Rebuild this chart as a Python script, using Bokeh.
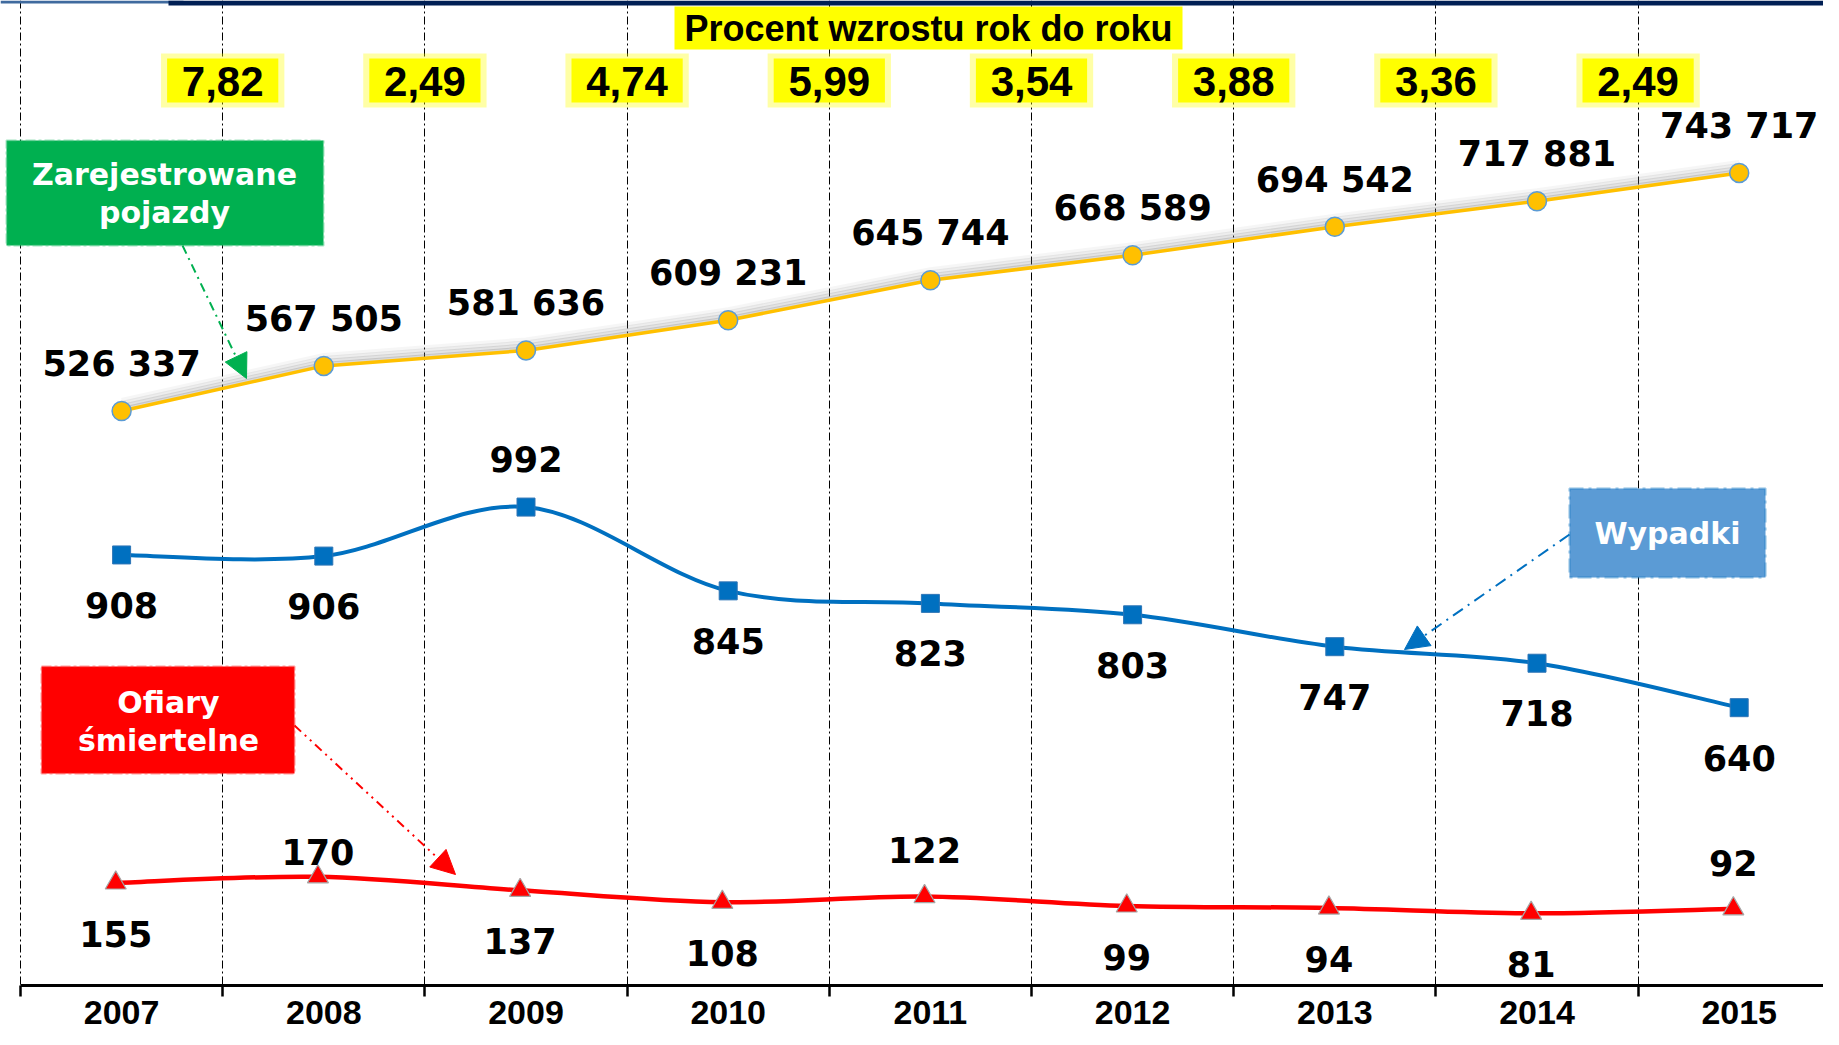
import numpy as np
from bokeh.plotting import figure
from bokeh.models import (Range1d, FixedTicker, BoxAnnotation, Label, Arrow,
                          NormalHead, ColumnDataSource)
from bokeh.core.properties import value
from bokeh.embed import file_html
from bokeh.resources import INLINE

# ---------------- data ----------------
years = ["2007", "2008", "2009", "2010", "2011", "2012", "2013", "2014", "2015"]
vehicles = [526337, 567505, 581636, 609231, 645744, 668589, 694542, 717881, 743717]
accidents = [908, 906, 992, 845, 823, 803, 747, 718, 640]
fatalities = [155, 170, 137, 108, 122, 99, 94, 81, 92]
growth_pct = [7.82, 2.49, 4.74, 5.99, 3.54, 3.88, 3.36, 2.49]

# label placement (layout only)
acc_above = [False, False, True, False, False, False, False, False, False]
fat_above = [False, True, False, False, True, False, False, False, True]

# ---------------- layout ----------------
W, H = 1823, 1029
FRAME_H = 985
SPACING = 202.2
x_start = -0.5 - 20 / SPACING
x_end = x_start + W / SPACING

p = figure(width=W, height=H, output_backend="svg", toolbar_location=None,
           x_range=Range1d(x_start, x_end), y_range=Range1d(FRAME_H, 0),
           y_axis_location=None, min_border_left=0, min_border_right=0,
           min_border_top=0, min_border_bottom=H - FRAME_H)
p.outline_line_color = None
p.background_fill_color = "white"

veh_lo, veh_hi = 1822, 901119
acc_lo, acc_hi = 152.5, 1880.9
fat_lo, fat_hi = -95.1, 2307.3
p.extra_x_ranges = {"px": Range1d(0, W)}
p.extra_y_ranges = {"veh": Range1d(veh_lo, veh_hi),
                    "acc": Range1d(acc_lo, acc_hi),
                    "fat": Range1d(fat_lo, fat_hi)}
veh_scale = FRAME_H / (veh_hi - veh_lo)
shadow = [(2, 0.30), (5, 0.22), (8, 0.14), (11, 0.07)]
for k, (d, _) in enumerate(shadow):
    sh = d / veh_scale
    p.extra_y_ranges[f"vs{k}"] = Range1d(veh_lo - sh, veh_hi - sh)

idx = np.arange(len(years), dtype=float)
bounds = np.arange(len(years) + 1) - 0.5

# top banner strip
p.add_layout(BoxAnnotation(left=0, right=183, top=0, bottom=3, x_range_name="px",
                           fill_color="#3F6A9E", fill_alpha=1, line_color=None))
p.add_layout(BoxAnnotation(left=168, right=W, top=0, bottom=5, x_range_name="px",
                           fill_color="#001F54", fill_alpha=1, line_color=None))

# grid & axis
p.xgrid.ticker = FixedTicker(ticks=list(bounds))
p.xgrid.grid_line_color = "black"
p.xgrid.grid_line_width = 1
p.xgrid.grid_line_dash = "8 3 2 3"
p.xgrid.bounds = (111, FRAME_H)
p.ygrid.visible = False

ax = p.xaxis[0]
ax.ticker = FixedTicker(ticks=list(idx), minor_ticks=list(bounds))
ax.major_label_overrides = {float(i): y for i, y in zip(idx, years)}
ax.major_tick_line_color = None
ax.major_tick_out = 0
ax.major_tick_in = 0
ax.minor_tick_out = 11
ax.minor_tick_in = 0
ax.minor_tick_line_width = 2.5
ax.minor_tick_line_color = "black"
ax.axis_line_width = 3
ax.axis_line_color = "black"
ax.bounds = (-0.5, 9)
ax.major_label_text_font = "Liberation Sans"
ax.major_label_text_font_style = "bold"
ax.major_label_text_font_size = "34px"
ax.major_label_text_color = "black"
ax.major_label_standoff = 4


def smooth(xs, ys):
    xs = np.asarray(xs, float)
    ys = np.asarray(ys, float)
    n = len(xs)
    out = {k: [] for k in ("x0", "y0", "x1", "y1", "cx0", "cy0", "cx1", "cy1")}
    for i in range(n - 1):
        a = max(i - 1, 0)
        b = min(i + 2, n - 1)
        out["x0"].append(xs[i]); out["y0"].append(ys[i])
        out["x1"].append(xs[i + 1]); out["y1"].append(ys[i + 1])
        out["cx0"].append(xs[i] + (xs[i + 1] - xs[a]) / 6)
        out["cy0"].append(ys[i] + (ys[i + 1] - ys[a]) / 6)
        out["cx1"].append(xs[i + 1] - (xs[b] - xs[i]) / 6)
        out["cy1"].append(ys[i + 1] - (ys[b] - ys[i]) / 6)
    return ColumnDataSource(out)


# ---------------- growth percent header ----------------
p.add_layout(BoxAnnotation(left=674, right=1182, top=6, bottom=49,
                           x_range_name="px", fill_color="#FFFF00",
                           fill_alpha=1, line_color=None, level="underlay"))
p.add_layout(Label(x=928, y=28, x_range_name="px",
                   text="Procent wzrostu rok do roku",
                   text_font="Liberation Sans", text_font_style="bold",
                   text_font_size="36px", text_align="center",
                   text_baseline="middle", text_color="black"))

gsrc = ColumnDataSource(dict(x=idx[:-1] + 0.5,
                             t=[f"{g:.2f}".replace(".", ",") for g in growth_pct]))
p.rect(x="x", y=80, width=0.61, height=54, source=gsrc,
       fill_color="#FFFF00", fill_alpha=0.35, line_color=None)
p.rect(x="x", y=80, width=0.55, height=44, source=gsrc,
       fill_color="#FFFF00", line_color=None)
p.text(x="x", y=81, text="t", source=gsrc, text_font=value("Liberation Sans"),
       text_font_style="bold", text_font_size="42px", text_align="center",
       text_baseline="middle", text_color="black")

# ---------------- vehicles ----------------
vsrc = ColumnDataSource(dict(x=idx, y=vehicles,
                             t=[f"{v:,}".replace(",", " ") for v in vehicles]))
for k, (_, a) in enumerate(shadow):
    p.line(x="x", y="y", source=vsrc, y_range_name=f"vs{k}",
           line_color="#808080", line_alpha=a, line_width=4)
p.line(x="x", y="y", source=vsrc, y_range_name="veh",
       line_color="#FFC000", line_width=3.5)
p.scatter(x="x", y="y", source=vsrc, y_range_name="veh", marker="circle",
          size=19, fill_color="#FFC000", line_color="#5B9BD5", line_width=1.5)
p.text(x="x", y="y", text="t", source=vsrc, y_range_name="veh",
       y_offset=-47, text_font=value("DejaVu Sans"), text_font_style="bold",
       text_font_size="35px", text_align="center", text_baseline="middle",
       text_color="black")

# ---------------- accidents ----------------
p.bezier(source=smooth(idx, accidents), y_range_name="acc",
         line_color="#0070C0", line_width=4)
asrc = ColumnDataSource(dict(x=idx, y=accidents, t=[str(a) for a in accidents],
                             off=[-48 if up else 50 for up in acc_above]))
p.scatter(x="x", y="y", source=asrc, y_range_name="acc", marker="square",
          size=18, fill_color="#0070C0", line_color="#2E75B6", line_width=1)
p.text(x="x", y="y", text="t", source=asrc, y_range_name="acc",
       y_offset="off", text_font=value("DejaVu Sans"), text_font_style="bold",
       text_font_size="35px", text_align="center", text_baseline="middle",
       text_color="black")

# ---------------- fatalities ----------------
fx = idx - 0.029
p.bezier(source=smooth(fx, fatalities), y_range_name="fat",
         line_color="#FF0000", line_width=4.5)
fat_off = []
for i, up in enumerate(fat_above):
    if up:
        fat_off.append(-25 if i == 1 else -46)
    else:
        fat_off.append(51)
fsrc = ColumnDataSource(dict(x=fx, y=fatalities, t=[str(f) for f in fatalities],
                             off=fat_off))
p.scatter(x="x", y="y", source=fsrc, y_range_name="fat", marker="triangle",
          size=21, fill_color="#FF0000", line_color="#A6A6A6", line_width=1.2)
p.text(x="x", y="y", text="t", source=fsrc, y_range_name="fat",
       y_offset="off", text_font=value("DejaVu Sans"), text_font_style="bold",
       text_font_size="35px", text_align="center", text_baseline="middle",
       text_color="black")

# ---------------- callouts ----------------
def callout(l, r, t, b, fill, border, dash, lines, cx, ys):
    p.add_layout(BoxAnnotation(left=l, right=r, top=t, bottom=b, x_range_name="px",
                               fill_color=fill, fill_alpha=1, line_color=border,
                               line_width=2.5, line_dash=dash))
    for txt, yy in zip(lines, ys):
        p.add_layout(Label(x=cx, y=yy, x_range_name="px", text=txt,
                           text_font="DejaVu Sans", text_font_style="bold",
                           text_font_size="30px", text_align="center",
                           text_baseline="middle", text_color="white"))


callout(6, 323, 140, 245, "#00B050", "#3CC47A", "10 3 3 3",
        ["Zarejestrowane", "pojazdy"], 164, [174, 212])
callout(1569, 1765, 488, 577, "#5B9BD5", "#0070C0", "14 5 3 5",
        ["Wypadki"], 1667, [533])
callout(41, 294, 666, 773, "#FF0000", "#FF3030", "10 3 3 3",
        ["Ofiary", "śmiertelne"], 168, [702, 740])

p.add_layout(Arrow(x_start=182, y_start=245, x_end=246, y_end=378,
                   x_range_name="px", line_color="#00B050", line_width=2,
                   line_dash="9 5 2 5",
                   end=NormalHead(size=24, fill_color="#00B050",
                                  line_color="#00B050")))
p.add_layout(Arrow(x_start=1569, y_start=534, x_end=1404, y_end=649,
                   x_range_name="px", line_color="#0070C0", line_width=2,
                   line_dash="12 6 2 6",
                   end=NormalHead(size=24, fill_color="#0070C0",
                                  line_color="#0070C0")))
p.add_layout(Arrow(x_start=294, y_start=725, x_end=455, y_end=874,
                   x_range_name="px", line_color="#FF0000", line_width=2,
                   line_dash="9 5 2 5 2 5",
                   end=NormalHead(size=24, fill_color="#FF0000",
                                  line_color="#FF0000")))

open("out.html", "w").write(file_html(p, INLINE))
